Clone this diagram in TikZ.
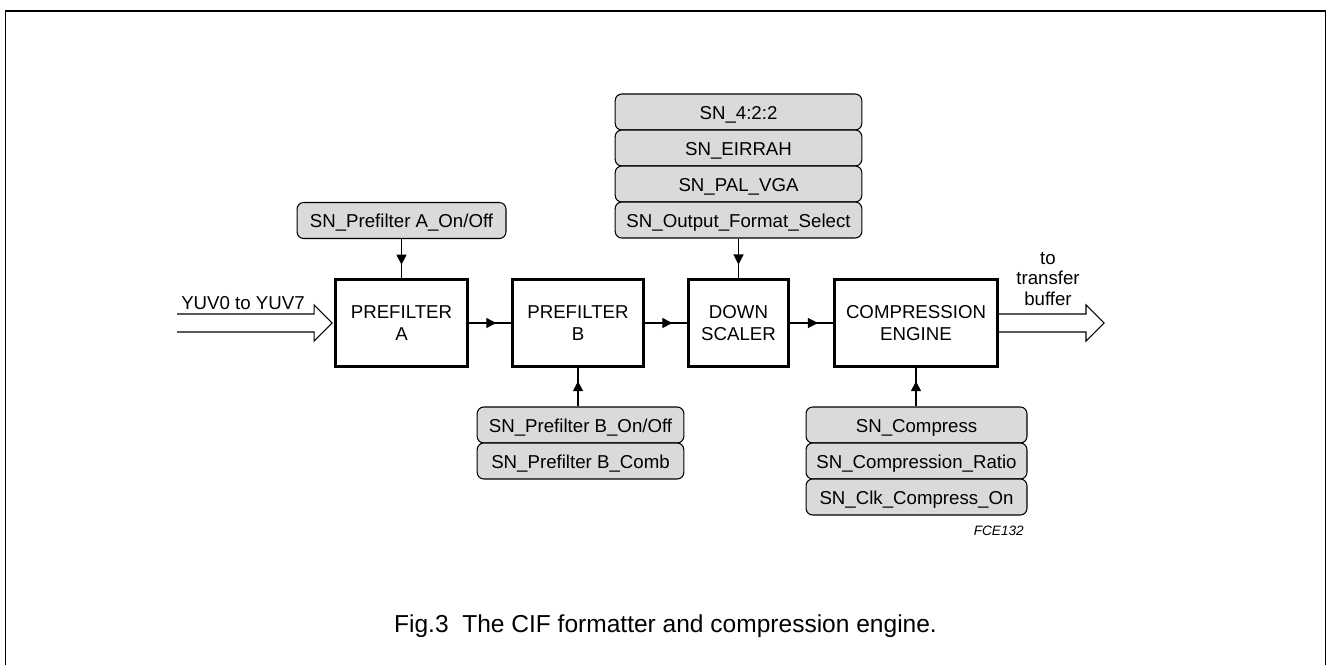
\documentclass[tikz,border=0pt]{standalone}
\usepackage{fontspec}
\setmainfont{Liberation Sans}
\usetikzlibrary{arrows.meta,decorations.markings,calc}
\definecolor{boxgray}{RGB}{218,218,218}
\begin{document}
\begin{tikzpicture}[x=0.75pt,y=-0.75pt,
  blockbox/.style={draw,line width=2pt,minimum height=64.8pt,align=center,
    font=\fontsize{14}{16.7}\selectfont,inner sep=0pt},
  graybox/.style={draw,line width=0.8pt,rounded corners=5pt,fill=boxgray,
    minimum height=27pt,inner sep=0pt,text height=10.5pt,text depth=0pt,
    font=\fontsize{14}{16}\selectfont},
  conn/.style={line width=0.9pt},
  midarr/.style={conn,postaction={decorate},decoration={markings,
    mark=at position #1 with {\arrow{Triangle[length=7.5pt,width=7.5pt]}}}},
  midarr/.default=0.65,
  hollowarrow/.style={line width=0.8pt,line join=miter},
  lbl/.style={font=\fontsize{14}{15.3}\selectfont,inner sep=0pt}
]
\useasboundingbox (0,0) rectangle (1327,664);
% frame
\draw[line width=0.9pt] (5.5,666) |- (1325.5,11) -- (1325.5,666);

% main blocks
\node[blockbox,minimum width=99.2pt] (A) at (401.5,323) {PREFILTER\\A};
\node[blockbox,minimum width=98.5pt] (B) at (578,323) {PREFILTER\\B};
\node[blockbox,minimum width=75.2pt] (DS) at (738.5,323) {DOWN\\SCALER};
\node[blockbox,minimum width=122.5pt] (CE) at (916,323) {COMPRESSION\\ENGINE};

% control boxes
\node[graybox,minimum width=156.7pt] (pa) at (401.5,220.5) {SN\_Prefilter A\_On/Off};

\node[graybox,minimum width=185pt] (s1) at (738.5,112) {SN\_4:2:2};
\node[graybox,minimum width=185pt] (s2) at (738.5,148) {SN\_EIRRAH};
\node[graybox,minimum width=185pt] (s3) at (738.5,184) {SN\_PAL\_VGA};
\node[graybox,minimum width=185pt] (s4) at (738.5,220) {SN\_Output\_Format\_Select};

\node[graybox,minimum width=155pt] (pb1) at (580.5,425) {SN\_Prefilter B\_On/Off};
\node[graybox,minimum width=155pt] (pb2) at (580.5,461) {SN\_Prefilter B\_Comb};

\node[graybox,minimum width=165.7pt] (c1) at (916.5,425) {SN\_Compress};
\node[graybox,minimum width=165.7pt] (c2) at (916.5,461) {SN\_Compression\_Ratio};
\node[graybox,minimum width=165.7pt] (c3) at (916.5,497) {SN\_Clk\_Compress\_On};

% connectors
\draw[midarr] (A) -- (B);
\draw[midarr] (B) -- (DS);
\draw[midarr] (DS) -- (CE);
\draw[midarr] (pa.south) -- (A.north);
\draw[midarr] (s4.south) -- (DS.north);
\draw[midarr] (B.south |- pb1.north) -- (B.south);
\draw[midarr] (CE.south |- c1.north) -- (CE.south);

% input hollow arrow
\coordinate (inS) at (177,323);
\coordinate (inTip) at ($(A.west)+(-2,0)$);
\draw[hollowarrow] ($(inS)+(0,-9)$) -- ($(inTip)+(-18,-9)$) -- ($(inTip)+(-18,-18)$)
  -- (inTip) -- ($(inTip)+(-18,18)$) -- ($(inTip)+(-18,9)$) -- ($(inS)+(0,9)$);
\node[lbl,anchor=base west] (inlbl) at (181,309) {YUV0 to YUV7};

% output hollow arrow
\coordinate (outTip) at (1104,323);
\draw[hollowarrow] ($(CE.east)+(0,-9)$) -- ($(outTip)+(-18,-9)$) -- ($(outTip)+(-18,-18)$)
  -- (outTip) -- ($(outTip)+(-18,18)$) -- ($(outTip)+(-18,9)$) -- ($(CE.east)+(0,9)$);
\node[lbl,align=center] (outlbl) at (1048,279) {to\\transfer\\buffer};

% code and caption
\node[anchor=base east,inner sep=0pt,font=\fontsize{10.2}{12}\selectfont\itshape] (code) at (1024,535) {FCE132};
\node[anchor=base,inner sep=0pt,font=\fontsize{18.4}{22}\selectfont] (cap) at (665.5,632) {Fig.3\hspace{0.278em}\hspace{0.278em}The CIF formatter and compression engine.};
\end{tikzpicture}
\end{document}
